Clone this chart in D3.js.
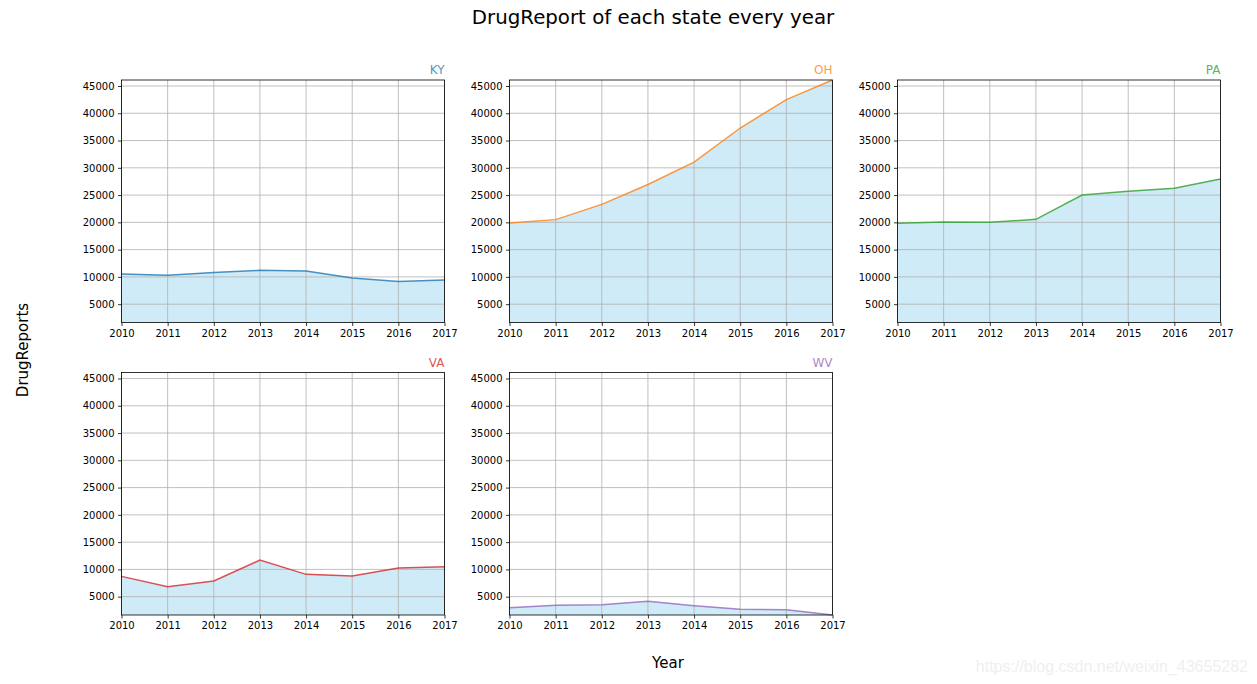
<!DOCTYPE html>
<html>
<head>
<meta charset="utf-8">
<script src="https://cdn.jsdelivr.net/npm/d3@7"></script>
<style>
  body { margin: 0; background: #fff; }
  svg { display: block; font-family: "DejaVu Sans", sans-serif; }
</style>
</head>
<body>
<svg id="chart" width="1257" height="684"></svg>
<script>
const years = [2010, 2011, 2012, 2013, 2014, 2015, 2016, 2017];
const states = ["KY", "OH", "PA", "VA", "WV"];
const colors = ["#1f77b4", "#ff7f0e", "#2ca02c", "#d62728", "#9467bd"];

const kyValues = [10550, 10300, 10800, 11200, 11100, 9800, 9150, 9450];
const ohValues = [19900, 20500, 23300, 26950, 31050, 37300, 42500, 46100];
const paValues = [19850, 20050, 20000, 20550, 25000, 25700, 26250, 27950];
const vaValues = [8720, 6830, 7870, 11700, 9090, 8780, 10240, 10490];
const wvValues = [2990, 3410, 3540, 4150, 3350, 2680, 2620, 1640];

const yTicks = [5000, 10000, 15000, 20000, 25000, 30000, 35000, 40000, 45000];

const seriesValues = [kyValues, ohValues, paValues, vaValues, wvValues];

const svg = d3.select("#chart");

const PANEL_W = 323;
const PANEL_H = 242.5;
const LEFT0 = 121.5;
const TOP0 = 80;
const COL_STEP = 388;
const ROW_STEP = 292.5;

const allValues = seriesValues.flat();
const y = d3.scaleLinear()
    .domain(d3.extent(allValues))
    .range([PANEL_H, 0]);
const x = d3.scaleLinear()
    .domain(d3.extent(years))
    .range([0, PANEL_W]);

// figure texts
svg.append("text")
    .attr("x", 653)
    .attr("y", 24)
    .attr("text-anchor", "middle")
    .attr("font-size", 19.8)
    .attr("fill", "#000")
    .text("DrugReport of each state every year");

svg.append("text")
    .attr("transform", "translate(28,350) rotate(-90)")
    .attr("text-anchor", "middle")
    .attr("font-size", 15)
    .attr("fill", "#000")
    .text("DrugReports");

svg.append("text")
    .attr("x", 668)
    .attr("y", 668)
    .attr("text-anchor", "middle")
    .attr("font-size", 15)
    .attr("fill", "#000")
    .text("Year");

states.forEach((st, i) => {
    const col = i % 3;
    const row = Math.floor(i / 3);
    const g = svg.append("g")
        .attr("transform", `translate(${LEFT0 + col * COL_STEP},${TOP0 + row * ROW_STEP})`);

    const data = years.map((yr, j) => ({ year: yr, value: seriesValues[i][j] }));

    // fill
    g.append("path")
        .datum(data)
        .attr("fill", "#87ceeb")
        .attr("fill-opacity", 0.4)
        .attr("d", d3.area()
            .x(d => x(d.year))
            .y0(PANEL_H)
            .y1(d => y(d.value)));

    // grid
    g.append("g")
        .selectAll("line.gx")
        .data(years)
        .join("line")
        .attr("x1", d => x(d)).attr("x2", d => x(d))
        .attr("y1", 0).attr("y2", PANEL_H)
        .attr("stroke", "#b0b0b0").attr("stroke-width", 0.8);
    g.append("g")
        .selectAll("line.gy")
        .data(yTicks)
        .join("line")
        .attr("x1", 0).attr("x2", PANEL_W)
        .attr("y1", d => y(d)).attr("y2", d => y(d))
        .attr("stroke", "#b0b0b0").attr("stroke-width", 0.8);

    // line
    g.append("path")
        .datum(data)
        .attr("fill", "none")
        .attr("stroke", colors[i])
        .attr("stroke-opacity", 0.8)
        .attr("stroke-width", 1.5)
        .attr("d", d3.line()
            .x(d => x(d.year))
            .y(d => y(d.value)));

    // axes
    const xAxis = g.append("g")
        .attr("transform", `translate(0,${PANEL_H})`)
        .call(d3.axisBottom(x).tickValues(years).tickFormat(d3.format("d"))
            .tickSizeInner(3.5).tickSizeOuter(0).tickPadding(3.5));
    const yAxis = g.append("g")
        .call(d3.axisLeft(y).tickValues(yTicks).tickFormat(d3.format("d"))
            .tickSizeInner(3.5).tickSizeOuter(0).tickPadding(3.5));
    [xAxis, yAxis].forEach(a => {
        a.select(".domain").remove();
        a.selectAll("text")
            .attr("font-family", "DejaVu Sans, sans-serif")
            .attr("font-size", 10)
            .attr("fill", "#000");
        a.selectAll("line").attr("stroke", "#000").attr("stroke-width", 0.8);
    });

    // frame
    g.append("rect")
        .attr("width", PANEL_W)
        .attr("height", PANEL_H)
        .attr("fill", "none")
        .attr("stroke", "#000")
        .attr("stroke-width", 0.8);

    // panel title
    g.append("text")
        .attr("x", PANEL_W)
        .attr("y", -6)
        .attr("text-anchor", "end")
        .attr("font-size", 12)
        .attr("fill", colors[i])
        .attr("fill-opacity", 0.8)
        .text(st);
});

// watermark
svg.append("text")
    .attr("x", 1248)
    .attr("y", 672)
    .attr("text-anchor", "end")
    .attr("font-family", "Liberation Sans, Arial, sans-serif")
    .attr("font-size", 16)
    .attr("fill", "#efefef")
    .text("https://blog.csdn.net/weixin_43655282");
</script>
</body>
</html>
